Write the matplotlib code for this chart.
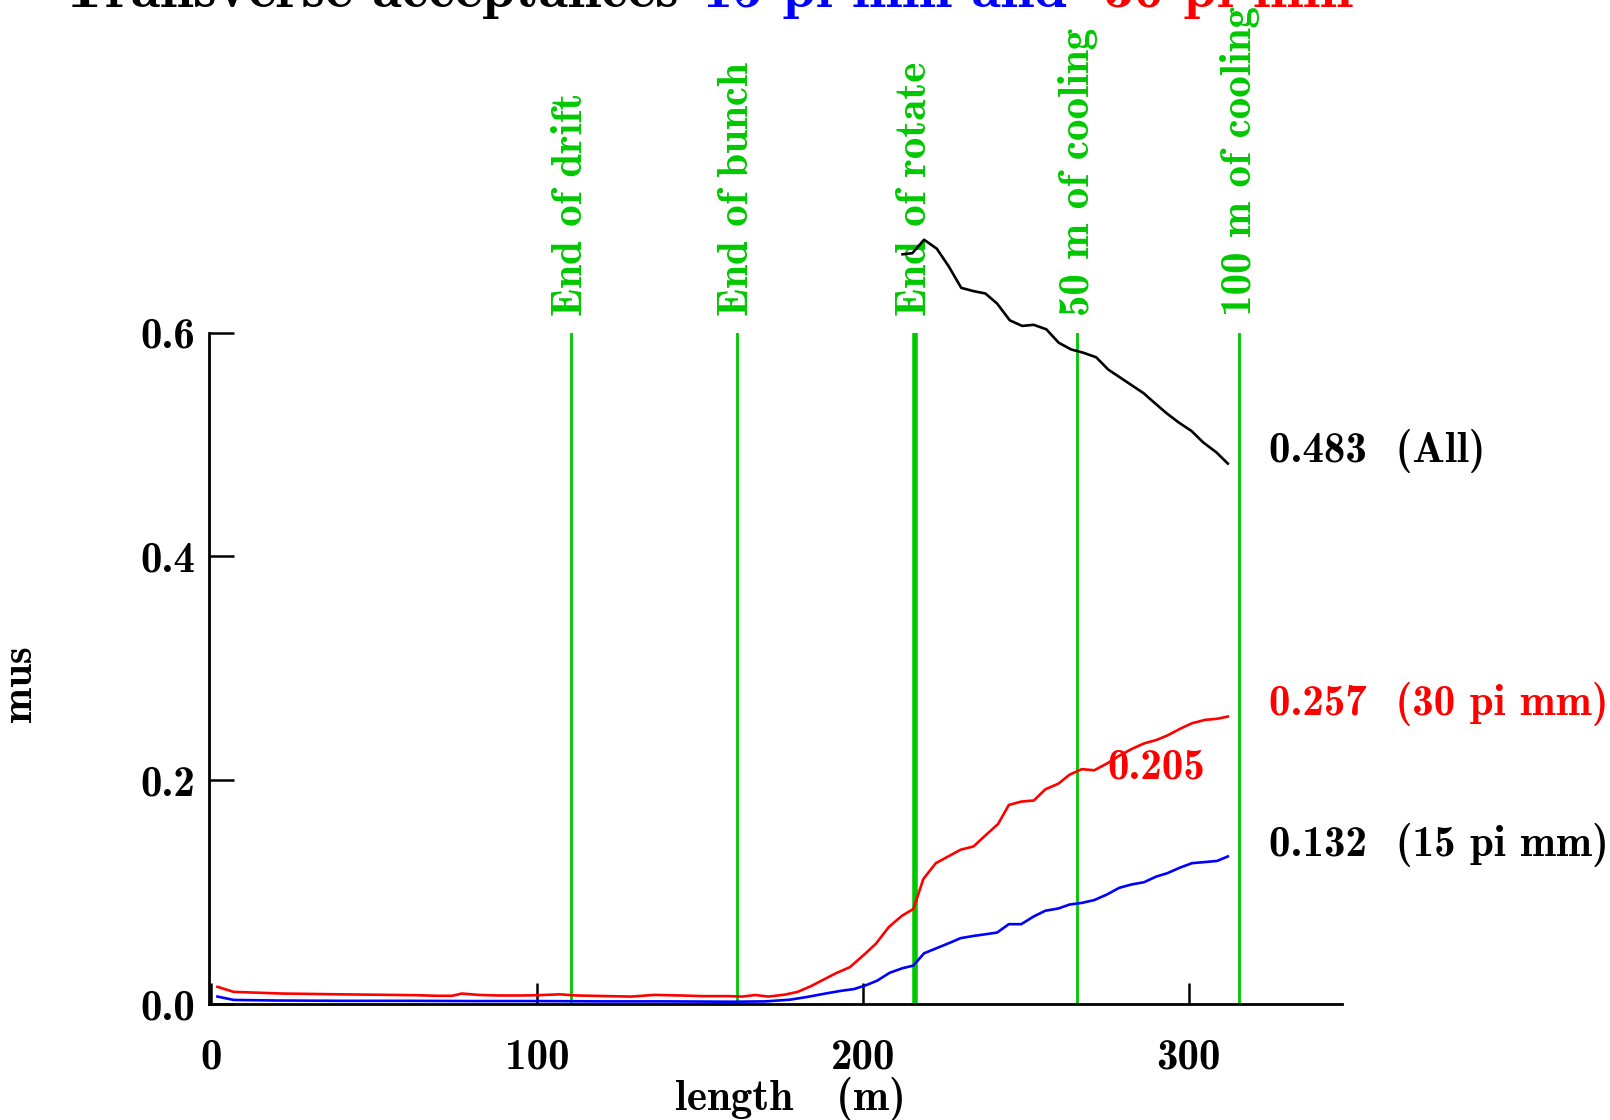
import matplotlib
matplotlib.use("Agg")
import matplotlib.pyplot as plt

# curve data
red_m = [2, 7, 22, 40, 64, 69, 74, 77, 82, 88, 95, 100, 107, 112, 122, 129,
         136, 144, 151, 159, 163, 167, 171, 176, 180, 184, 188, 192, 196,
         200.5, 204, 208, 212, 215.5, 218.6, 222.4, 226.2, 230, 234, 237.7,
         241.5, 244.8, 248.6, 252.5, 256, 260, 263.4, 267.2, 271, 274.9,
         278.7, 282.5, 286.3, 290, 293.4, 297.3, 301, 305, 308.7, 312]
red_v = [0.0155, 0.011, 0.0095, 0.0088, 0.008, 0.0075, 0.0075, 0.0095,
         0.0083, 0.0078, 0.0078, 0.008, 0.0088, 0.0078, 0.0072, 0.0068,
         0.0083, 0.0078, 0.0072, 0.0072, 0.0068, 0.0082, 0.0068, 0.0085,
         0.011, 0.016, 0.022, 0.028, 0.033, 0.0445, 0.054, 0.069, 0.079,
         0.085, 0.112, 0.126, 0.132, 0.138, 0.141, 0.151, 0.161, 0.178,
         0.181, 0.182, 0.192, 0.197, 0.205, 0.210, 0.209, 0.215, 0.222,
         0.228, 0.233, 0.236, 0.240, 0.246, 0.251, 0.254, 0.255, 0.257]

blue_m = [2, 7, 20, 40, 60, 80, 100, 120, 140, 160, 170, 177.6, 183, 188.5,
          193.4, 197.3, 201, 204.4, 208.2, 212, 215.5, 218.8, 222.6, 226.4,
          230, 234, 237.7, 241.2, 244.8, 248.6, 252.5, 256, 260, 263.4,
          267.2, 271, 274.9, 278.7, 282.5, 286.3, 290, 293.4, 297.3, 301,
          305, 308.7, 312]
blue_v = [0.0068, 0.0038, 0.0033, 0.003, 0.003, 0.0028, 0.0028, 0.0025,
          0.0025, 0.0022, 0.0025, 0.004, 0.0065, 0.0095, 0.012, 0.0135,
          0.017, 0.021, 0.028, 0.032, 0.0345, 0.0455, 0.050, 0.0545, 0.059,
          0.061, 0.0625, 0.064, 0.0715, 0.0715, 0.0785, 0.0835, 0.0855,
          0.089, 0.0905, 0.093, 0.098, 0.104, 0.107, 0.109, 0.114, 0.117,
          0.122, 0.126, 0.127, 0.128, 0.132]

black_m = [212.2, 215.2, 218.8, 222.7, 226.4, 230.2, 234.1, 237.6, 241.2,
           245.1, 248.9, 252.4, 256.3, 260.1, 263.9, 267.7, 271.6, 275.3,
           278.9, 282.5, 286.1, 289.6, 293.2, 296.8, 300.9, 304.4, 308.5, 312.0]
black_v = [0.670, 0.671, 0.683, 0.675, 0.659, 0.640, 0.637, 0.635, 0.626,
           0.611, 0.606, 0.607, 0.603, 0.591, 0.585, 0.582, 0.578, 0.567,
           0.560, 0.553, 0.546, 0.537, 0.528, 0.520, 0.512, 0.502, 0.493, 0.483]

marker_pos = [110.5, 161.5, 216, 265.8, 315.5]
marker_names = ["End of drift", "End of bunch", "End of rotate",
                "50 m of cooling", "100 m of cooling"]
marker_widths = [2, 2, 4, 2, 2]

end_labels = ["0.483  (All)", "0.257  (30 pi mm)", "0.132  (15 pi mm)"]
end_y = [0.494, 0.268, 0.142]
end_colors = ["black", "red", "black"]

GREEN = "#00c800"
FONT = "cmb10"
FS = 31

plt.rcParams["font.family"] = FONT
plt.rcParams["font.size"] = FS

fig = plt.figure(figsize=(16.1, 11.2), dpi=100)
ax = fig.add_axes([0.130, 0.1034, 0.7035, 0.5996])

ax.set_xlim(-0.5, 347)
ax.set_ylim(0, 0.6)

# green markers with their labels above the axes
for pos, name, lw in zip(marker_pos, marker_names, marker_widths):
    ax.plot([pos, pos], [0, 0.6], color=GREEN, lw=lw, zorder=1)
    ax.text(pos + 0.2, 0.615, name, rotation=90, ha="center", va="bottom",
            color=GREEN, fontsize=FS)

ax.plot(red_m, red_v, color="red", lw=1.9, zorder=3)
ax.plot(blue_m, blue_v, color="blue", lw=1.9, zorder=3)
ax.plot(black_m, black_v, color="black", lw=1.9, zorder=3, clip_on=False)

for lab, y, c in zip(end_labels, end_y, end_colors):
    ax.text(324.5, y, lab, color=c, ha="left", va="center", fontsize=FS)
ax.text(275, 0.211, "0.205", color="red", ha="left", va="center", fontsize=FS)

for s in ["top", "right"]:
    ax.spines[s].set_visible(False)
for s in ["left", "bottom"]:
    ax.spines[s].set_linewidth(2)

ax.set_xticks([0, 100, 200, 300])
ax.set_xticklabels(["0", "100", "200", "300"])
ax.set_yticks([0.0, 0.2, 0.4, 0.6])
ax.set_yticklabels(["0.0", "0.2", "0.4", "0.6"])
ax.tick_params(axis="x", direction="in", length=15, width=1.8, pad=25)
ax.tick_params(axis="y", direction="in", length=18, width=1.8, pad=10)

# axis titles
fig.text(0.491, 0.019, "length   (m)", ha="center", va="center", fontsize=FS)
fig.text(0.0127, 0.39, "mus", ha="center", va="center", rotation=90,
         fontsize=FS)

# title, partly cut off at the top edge
fig.text(0.0396, 0.994, "Transverse acceptances", color="black",
         fontsize=43, va="baseline", ha="left")
fig.text(0.4368, 0.994, "15 pi mm and", color="blue",
         fontsize=43, va="baseline", ha="left")
fig.text(0.6856, 0.994, "30 pi mm", color="red",
         fontsize=43, va="baseline", ha="left")

fig.savefig("out.png", dpi=100)
